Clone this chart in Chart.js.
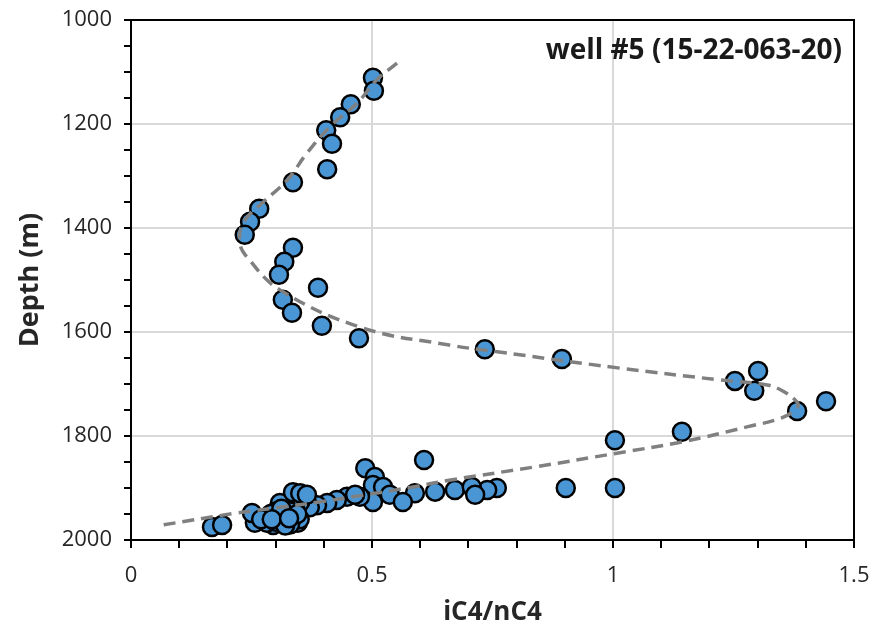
<!DOCTYPE html>
<html>
<head>
<meta charset="utf-8">
<script src="https://cdn.jsdelivr.net/npm/chart.js@4"></script>
<style>
  html, body { margin: 0; padding: 0; background: #fff; }
  #wrap { width: 873px; height: 632px; }
</style>
</head>
<body>
<div id="wrap"><canvas id="depthChart"></canvas></div>
<script>
// measured iC4/nC4 ratio against depth (m)
const ratio = [
    0.502, 0.504, 0.456, 0.434, 0.405, 0.417, 0.407, 0.336, 0.266, 0.247,
    0.236, 0.336, 0.318, 0.307, 0.388, 0.315, 0.334, 0.396, 0.473, 0.734,
    0.894, 1.301, 1.253, 1.293, 1.442, 1.382, 1.143, 1.004, 0.608, 0.486,
    0.506, 0.502, 0.902, 1.004, 0.759, 0.739, 0.672, 0.631, 0.589, 0.707,
    0.714, 0.523, 0.537, 0.564, 0.502, 0.475, 0.448, 0.465, 0.427, 0.407,
    0.386, 0.371, 0.351, 0.340, 0.323, 0.309, 0.336, 0.351, 0.365, 0.309,
    0.284, 0.336, 0.346, 0.315, 0.295, 0.282, 0.257, 0.251, 0.168, 0.189,
    0.320, 0.330, 0.300, 0.340, 0.350, 0.310, 0.330, 0.290, 0.270, 0.300,
    0.320, 0.345, 0.312, 0.292, 0.328
];
const depth = [
    1111, 1136, 1162, 1187, 1212, 1238, 1287, 1312, 1363, 1388,
    1413, 1438, 1465, 1490, 1515, 1538, 1563, 1588, 1612, 1633,
    1652, 1675, 1694, 1713, 1733, 1752, 1792, 1808, 1846, 1862,
    1879, 1894, 1900, 1900, 1900, 1904, 1904, 1907, 1910, 1898,
    1913, 1898, 1913, 1927, 1927, 1917, 1917, 1913, 1923, 1929,
    1933, 1937, 1927, 1933, 1939, 1929, 1908, 1910, 1913, 1956,
    1958, 1962, 1967, 1967, 1971, 1967, 1967, 1948, 1975, 1971,
    1950, 1945, 1945, 1955, 1960, 1962, 1970, 1950, 1960, 1965,
    1972, 1950, 1940, 1960, 1958
];

// dashed trend curve
const trendRatio = [
    0.552, 0.51, 0.469, 0.413, 0.365, 0.324, 0.272, 0.232, 0.226, 0.24,
    0.309, 0.48, 0.66, 0.76, 1.01, 1.22, 1.32, 1.355, 1.382, 1.382,
    1.35, 1.28, 1.145, 1.008, 0.834, 0.66, 0.585, 0.52, 0.46, 0.39,
    0.31, 0.22, 0.06
];
const trendDepth = [
    1083, 1115, 1160, 1205, 1256, 1308, 1352, 1391, 1429, 1455,
    1519, 1592, 1625, 1638, 1669, 1692, 1702, 1715, 1735, 1746,
    1765, 1782, 1811, 1833, 1860, 1885, 1898, 1908, 1917, 1927,
    1937, 1948, 1972
];

const xMajor = [0, 0.5, 1, 1.5];
const yMajor = [1000, 1200, 1400, 1600, 1800, 2000];
const wellLabel = 'well #5 (15-22-063-20)';

const isMajor = (v, list) => list.some(m => Math.abs(m - v) < 1e-6);

const frameAndLabel = {
    id: 'frameAndLabel',
    afterDraw: (chart) => {
        const { ctx, chartArea } = chart;
        ctx.save();
        ctx.strokeStyle = '#000';
        ctx.lineWidth = 2;
        ctx.strokeRect(chartArea.left, chartArea.top, chartArea.right - chartArea.left, chartArea.bottom - chartArea.top);
        ctx.fillStyle = '#1a1a1a';
        ctx.font = 'bold 28px "Open Sans"';
        ctx.textAlign = 'right';
        ctx.textBaseline = 'middle';
        ctx.fillText(wellLabel, chartArea.right - 12, chartArea.top + 31);
        ctx.restore();
    }
};

const ctx = document.getElementById('depthChart').getContext('2d');

new Chart(ctx, {
    type: 'scatter',
    data: {
        datasets: [
            {
                // trend first so it is drawn over the points
                data: trendRatio.map((v, i) => ({ x: v, y: trendDepth[i] })),
                showLine: true,
                borderColor: '#808080',
                borderWidth: 3.5,
                borderDash: [12, 7],
                tension: 0.4,
                pointRadius: 0,
                fill: false
            },
            {
                data: ratio.map((v, i) => ({ x: v, y: depth[i] })),
                backgroundColor: '#4a96d4',
                borderColor: '#000000',
                borderWidth: 2.5,
                pointRadius: 9
            }
        ]
    },
    options: {
        responsive: true,
        maintainAspectRatio: false,
        animation: false,
        layout: {
            padding: { top: 20, right: 19, left: 0, bottom: 0 }
        },
        plugins: {
            legend: { display: false },
            tooltip: { enabled: false }
        },
        scales: {
            x: {
                type: 'linear',
                min: 0,
                max: 1.5,
                ticks: {
                    stepSize: 0.1,
                    autoSkip: false,
                    maxRotation: 0,
                    padding: 15,
                    color: '#262626',
                    font: { family: 'Open Sans', size: 22 },
                    callback: (v) => isMajor(v, xMajor) ? String(Math.round(v * 10) / 10) : ''
                },
                grid: {
                    color: (c) => (c.tick && isMajor(c.tick.value, [0.5, 1])) ? '#d9d9d9' : 'rgba(0,0,0,0)',
                    lineWidth: 2,
                    tickColor: '#000',
                    tickLength: 8,
                    tickWidth: 2
                },
                border: { color: '#000', width: 2 },
                title: {
                    display: true,
                    text: 'iC4/nC4',
                    color: '#262626',
                    font: { family: 'Open Sans', size: 26, weight: 'bold' },
                    padding: { top: 4 }
                },
                afterFit: (scale) => {
                    scale.height = 92;
                    scale.paddingLeft = 0;
                    scale.paddingRight = 0;
                }
            },
            y: {
                type: 'linear',
                reverse: true,
                min: 1000,
                max: 2000,
                ticks: {
                    stepSize: 50,
                    autoSkip: false,
                    padding: 12,
                    color: '#262626',
                    font: { family: 'Open Sans', size: 22 },
                    callback: (v) => isMajor(v, yMajor) ? String(v) : ''
                },
                grid: {
                    color: (c) => (c.tick && isMajor(c.tick.value, [1200, 1400, 1600, 1800])) ? '#d9d9d9' : 'rgba(0,0,0,0)',
                    lineWidth: 2,
                    tickColor: '#000',
                    tickLength: 7,
                    tickWidth: 2
                },
                border: { color: '#000', width: 2 },
                title: {
                    display: true,
                    text: 'Depth (m)',
                    color: '#262626',
                    font: { family: 'Open Sans', size: 27, weight: 'bold' },
                    padding: { top: 14, bottom: 4 }
                },
                afterFit: (scale) => {
                    scale.width = 131;
                    scale.paddingTop = 0;
                    scale.paddingBottom = 0;
                }
            }
        }
    },
    plugins: [frameAndLabel]
});
</script>
</body>
</html>
